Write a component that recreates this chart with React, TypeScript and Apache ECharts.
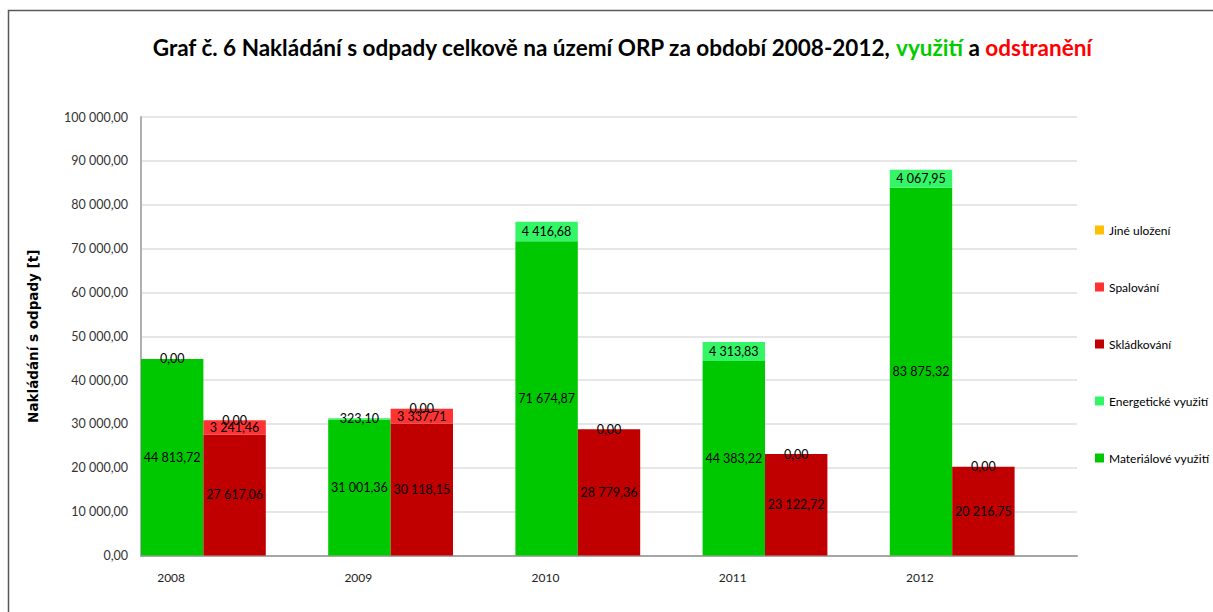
import React, { useEffect, useRef } from "react";
import * as echarts from "echarts";

const years = ["2008", "2009", "2010", "2011", "2012"];
const materialove = [44813.72, 31001.36, 71674.87, 44383.22, 83875.32];
const energeticke = [0, 323.1, 4416.68, 4313.83, 4067.95];
const skladkovani = [27617.06, 30118.15, 28779.36, 23122.72, 20216.75];
const spalovani = [3241.46, 3337.71, null, null, null];
const jine = [0, 0, 0, 0, 0];
const legendOrder = ["Jiné uložení", "Spalování", "Skládkování", "Energetické využití", "Materiálové využití"];

const FONT = "Lato, 'Noto Sans', sans-serif";

const fmt = (v: number) => {
  const [i, d] = Math.abs(v).toFixed(2).split(".");
  return i.replace(/\B(?=(\d{3})+(?!\d))/g, " ") + "," + d;
};

export default function App() {
  const ref = useRef<HTMLDivElement>(null);
  useEffect(() => {
    if (!ref.current) return;
    const chart = echarts.init(ref.current, null, { renderer: "svg" });
    const label = {
      show: true,
      position: "inside",
      color: "#000",
      fontSize: 12.5,
      fontFamily: FONT,
      formatter: (p: any) => fmt(p.value),
    };
    const mk = (name: string, data: (number | null)[], stack: string, color: string) => ({
      name,
      type: "bar",
      stack,
      data,
      itemStyle: { color },
      label,
      barGap: "0%",
      barCategoryGap: "0%",
    });
    chart.setOption({
      animation: false,
      backgroundColor: "#fff",
      graphic: [
        {
          type: "rect",
          shape: { x: 8.5, y: 10.5, width: 1300, height: 700 },
          style: { fill: "none", stroke: "#595959", lineWidth: 1.5 },
          silent: true,
        },
        {
          type: "text",
          x: 622,
          y: 47,
          style: {
            text: "{b|Graf č. 6 Nakládání s odpady celkově na území ORP za období 2008-2012, }{g|využití}{b| a }{r|odstranění}",
            align: "center",
            verticalAlign: "middle",
            rich: {
              b: { fontSize: 22.5, fontWeight: "bold", fontFamily: FONT, fill: "#000" },
              g: { fontSize: 22.5, fontWeight: "bold", fontFamily: FONT, fill: "#00cc00" },
              r: { fontSize: 22.5, fontWeight: "bold", fontFamily: FONT, fill: "#ff0000" },
            },
          },
        },
      ],
      legend: {
        orient: "vertical",
        left: 1090,
        top: 218,
        data: legendOrder,
        icon: "rect",
        itemWidth: 9,
        itemHeight: 9,
        itemGap: 43,
        textStyle: { fontSize: 12, fontFamily: FONT, color: "#000", lineHeight: 14 },
      },
      grid: { left: 141, right: 136, top: 117, bottom: 56.5 },
      xAxis: {
        type: "category",
        data: years,
        axisLine: { lineStyle: { color: "#a6a6a6", width: 2 } },
        axisTick: { show: false },
        axisLabel: {
          fontSize: 12,
          fontFamily: FONT,
          color: "#222",
          margin: 16,
          padding: [0, 127, 0, 0],
        },
      },
      yAxis: {
        type: "value",
        min: 0,
        max: 100000,
        interval: 10000,
        name: "Nakládání s odpady [t]",
        nameLocation: "middle",
        nameGap: 101,
        nameTextStyle: { fontSize: 13.5, fontWeight: "bold", fontFamily: "'DejaVu Sans', sans-serif", color: "#000" },
        axisLine: { show: true, lineStyle: { color: "#b0b0b0", width: 2 } },
        axisTick: { show: false },
        splitLine: { lineStyle: { color: "#dedede", width: 1.5 } },
        axisLabel: {
          fontSize: 12.5,
          fontFamily: FONT,
          color: "#333",
          margin: 13,
          formatter: (v: number) => fmt(v),
        },
      },
      series: [
        mk("Materiálové využití", materialove, "vyuziti", "#00c800"),
        mk("Energetické využití", energeticke, "vyuziti", "#33f566"),
        mk("Skládkování", skladkovani, "odstraneni", "#c00000"),
        mk("Spalování", spalovani, "odstraneni", "#ff3333"),
        mk("Jiné uložení", jine, "odstraneni", "#ffc000"),
        { name: "_gap", type: "bar", stack: "gap", data: [null, null, null, null, null], barGap: "0%", barCategoryGap: "0%" },
      ],
    });
    return () => chart.dispose();
  }, []);
  return <div ref={ref} style={{ position: "absolute", left: 0, top: 0, width: 1213, height: 612 }} />;
}
